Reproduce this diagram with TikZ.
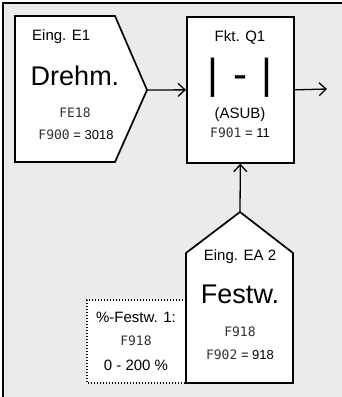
\documentclass[tikz,border=0pt]{standalone}
\usepackage{fontspec}
\setmainfont{Liberation Sans}
\newfontfamily\segfont{DejaVu Sans Mono}
\usetikzlibrary{arrows.meta}
\newcommand{\segtxt}[1]{{\segfont\fontsize{13}{15}\selectfont\color{black!80}#1}}
\begin{document}
\begin{tikzpicture}[x=1pt,y=-1pt,
  shapeline/.style={draw=black,line width=1.7pt,fill=white,line join=miter},
  conn/.style={line width=1.3pt,-{Straight Barb[length=7pt,width=13pt,line width=1.3pt]}},
  small/.style={font=\fontsize{15}{17}\selectfont, inner sep=0pt},
  big/.style={font=\fontsize{27}{30}\selectfont, inner sep=0pt},
  huge/.style={font=\fontsize{42}{46}\selectfont, inner sep=0pt},
  seg/.style={inner sep=0pt},
  val/.style={font=\fontsize{13}{15}\selectfont, inner sep=0pt}]
\useasboundingbox (0,0) rectangle (342,397);
\begin{scope}
  \clip (0,0) rectangle (342,397);
  \draw[line width=2pt, fill=black!8] (3,3) rectangle (352,410);
\end{scope}
% E1 block
\draw[shapeline] (15,16) -- (115,16) -- (147,90) -- (115,162) -- (15,162) -- cycle;
\coordinate (e1tip) at (147,90);
\node[small, anchor=west] (e1a) at (32,37) {Eing. E1};
\node[big] (e1b) at (75,76) {Drehm.};
\node[seg] (e1c) at (75,113) {\segtxt{FE18}};
\node[val] (e1d) at (76,135) {\segtxt{F900} = 3018};
% Q1 block
\node[shapeline, anchor=north west, minimum width=107pt, minimum height=146pt, inner sep=0pt] (q1) at (186,16) {};
\node[small] (q1a) at (240,37) {Fkt. Q1};
\node[huge] (q1b) at (240,78) {|\hspace{3pt} - \hspace{3pt}|};
\node[small] (q1c) at (240,115) {(ASUB)};
\node[val] (q1d) at (240,133) {\segtxt{F901} = 11};
\coordinate (q1out) at (327,89);
% dotted box
\fill[white] (87,300) rectangle (186,383);
\draw[line width=1.3pt, dash pattern=on 1.3pt off 1.7pt] (186,300) -- (87,300) -- (87,383) -- (186,383);
\node[small] (pa) at (136,317) {\%-Festw. 1:};
\node[seg] (pb) at (136,341) {\segtxt{F918}};
\node[small] (pc) at (136,365) {0 - 200 \%};
% EA2 block
\draw[shapeline] (186,383) -- (186,253) -- (240,212) -- (293,253) -- (293,383) -- cycle;
\coordinate (ea2tip) at (240,212);
\node[small] (ea) at (240,257) {Eing. EA 2};
\node[big] (eb) at (240,294) {Festw.};
\node[seg] (ec) at (240,332) {\segtxt{F918}};
\node[val] (ed) at (240,355) {\segtxt{F902} = 918};
% connectors
\draw[conn] (e1tip) -- (q1.west);
\draw[conn] (q1.east) -- (q1out);
\draw[conn] (ea2tip) -- (q1.south);
\end{tikzpicture}
\end{document}
